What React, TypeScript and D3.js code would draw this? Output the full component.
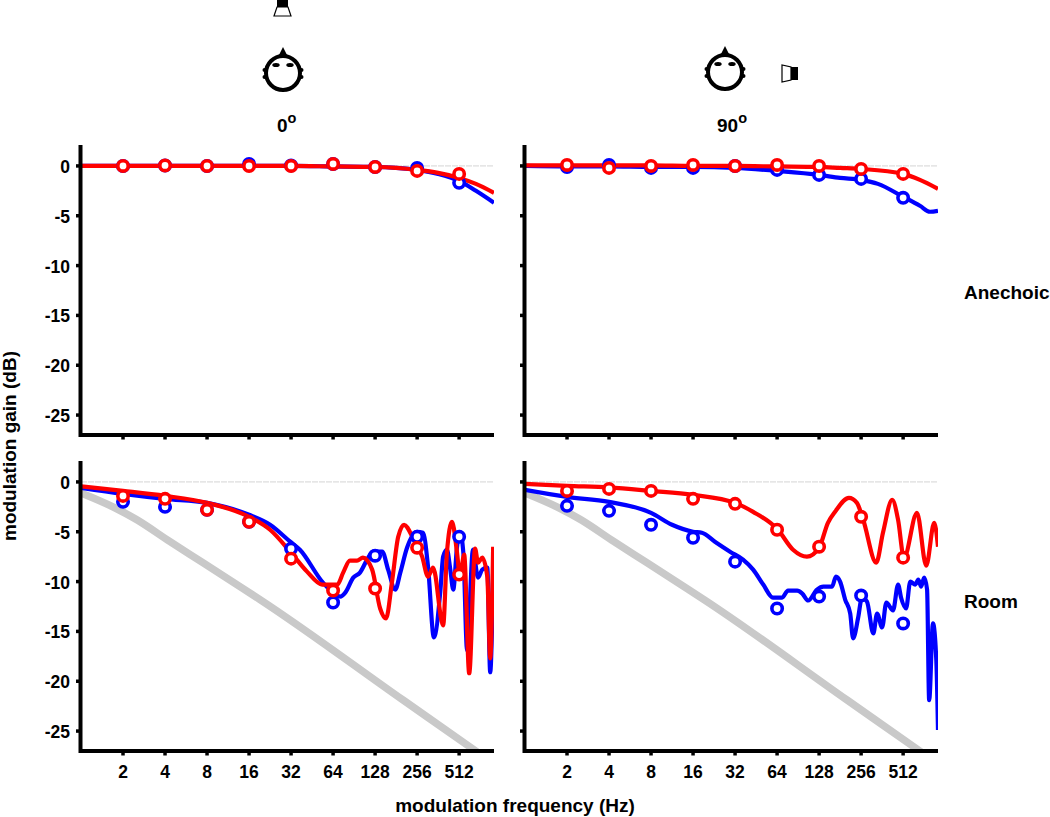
import { useRef, useEffect } from 'react';
import * as d3 from 'd3';

// frequencies are kept as log2(Hz), gains in dB
const markerOct = [1, 2, 3, 4, 5, 6, 7, 8, 9];
const tickLabels = ['2', '4', '8', '16', '32', '64', '128', '256', '512'];
const gainTicks = [0, -5, -10, -15, -20, -25];

const grayOct = [0, 0.76, 1.33, 2.12, 2.9, 3.71, 4.26, 7.67, 9.26, 9.83];
const grayDb = [-1.1, -2.5, -3.8, -6.0, -8.1, -10.3, -11.8, -21.9, -26.6, -28.3];

const anechoic0BlueOct = [0, 1, 2, 3, 4, 5, 6, 7, 7.5, 8, 8.5, 9, 9.4, 9.83];
const anechoic0BlueDb = [0, 0, 0, 0, 0, 0, -0.05, -0.1, -0.2, -0.4, -0.8, -1.5, -2.5, -3.7];
const anechoic0RedOct = [0, 1, 2, 3, 4, 5, 6, 7, 7.5, 8, 8.5, 9, 9.4, 9.83];
const anechoic0RedDb = [0, 0, 0, 0, 0, 0, -0.05, -0.1, -0.2, -0.4, -0.7, -1.2, -1.8, -2.7];
const anechoic0BlueMarks = [0, 0.05, 0, 0.2, 0.05, 0.2, -0.1, -0.2, -1.7];
const anechoic0RedMarks = [0, 0.05, 0, 0, 0, 0.2, -0.1, -0.5, -0.8];

const anechoic90BlueOct = [0, 1, 2, 3, 4, 5, 6, 7, 7.5, 8, 8.4, 9, 9.4, 9.64, 9.83];
const anechoic90BlueDb = [0, -0.05, -0.05, -0.1, -0.1, -0.2, -0.5, -0.9, -1.2, -1.4, -1.8, -3.1, -4.0, -4.6, -4.5];
const anechoic90RedOct = [0, 1, 2, 3, 4, 5, 6, 7, 7.5, 8, 9, 9.4, 9.83];
const anechoic90RedDb = [0.05, 0.05, 0.05, 0.05, 0, 0, -0.05, -0.1, -0.2, -0.3, -0.8, -1.4, -2.3];
const anechoic90BlueMarks = [-0.1, 0.1, -0.2, -0.2, 0, -0.4, -0.9, -1.3, -3.2];
const anechoic90RedMarks = [0.1, -0.2, 0, 0.1, 0, 0.1, 0, -0.3, -0.8];

const room0BlueOct = [0, 1, 2, 3, 4, 4.5, 4.98, 5.21, 5.76, 6.17, 6.29, 6.48, 6.64, 6.81, 6.95, 7.17, 7.31, 7.48, 7.6, 7.76, 8, 8.14, 8.26, 8.4, 8.55, 8.62, 8.71, 8.79, 8.86, 8.95, 9.02, 9.1, 9.19, 9.33, 9.45, 9.55, 9.67, 9.74, 9.81];
const room0BlueDb = [-0.6, -1.2, -1.7, -2.1, -3.3, -4.3, -6.0, -6.8, -10.1, -11.5, -11.1, -9.6, -9.1, -7.8, -7.0, -7.0, -8.8, -10.8, -9.1, -6.6, -5.0, -5.1, -8.5, -15.6, -11.1, -7.5, -6.8, -8.8, -10.8, -6.5, -5.0, -7.1, -16.9, -6.8, -9.6, -8.8, -8.6, -19.1, -8.8];
const room0RedOct = [0, 1, 2, 3, 4, 4.5, 4.98, 5.38, 5.74, 6.1, 6.24, 6.4, 6.57, 6.71, 6.93, 7.12, 7.26, 7.4, 7.55, 7.69, 7.9, 8.12, 8.26, 8.38, 8.62, 8.71, 8.83, 8.95, 9.02, 9.12, 9.24, 9.38, 9.45, 9.55, 9.67, 9.74, 9.81];
const room0RedDb = [-0.45, -0.9, -1.4, -2.1, -3.5, -4.8, -7.0, -9.0, -10.3, -10.3, -9.1, -7.9, -7.9, -7.6, -8.8, -12.7, -13.7, -10.1, -5.5, -4.3, -5.6, -7.5, -9.5, -8.6, -14.4, -7.1, -4.0, -7.1, -9.5, -7.3, -19.2, -6.7, -8.1, -7.6, -9.5, -17.7, -6.5];
const room0BlueMarks = [-2.0, -2.5, -2.8, -4.0, -6.7, -12.1, -7.4, -5.5, -5.5];
const room0RedMarks = [-1.4, -1.7, -2.8, -4.0, -7.7, -10.9, -10.7, -6.6, -9.3];

const room90BlueOct = [0, 1, 2, 3, 3.5, 4, 4.21, 4.52, 4.88, 5.19, 5.43, 5.67, 5.9, 6.12, 6.26, 6.48, 6.6, 6.74, 6.95, 7.1, 7.31, 7.4, 7.5, 7.62, 7.74, 7.81, 7.93, 8.02, 8.14, 8.29, 8.38, 8.5, 8.6, 8.76, 8.88, 8.95, 9.07, 9.17, 9.29, 9.36, 9.43, 9.5, 9.57, 9.62, 9.71, 9.79, 9.83];
const room90BlueDb = [-0.8, -1.5, -2.0, -3.1, -4.3, -5.0, -5.1, -6.0, -7.0, -7.8, -8.8, -10.3, -11.6, -11.6, -10.9, -10.9, -11.2, -11.9, -10.8, -10.5, -10.5, -9.5, -10.0, -11.8, -13.2, -15.7, -13.6, -11.6, -12.0, -15.2, -13.2, -14.6, -12.1, -12.9, -10.3, -11.6, -12.7, -10.0, -10.3, -9.8, -10.5, -9.6, -10.8, -21.9, -14.2, -17.9, -24.9];
const room90RedOct = [0, 1, 2, 3, 4, 5, 5.43, 6.02, 6.38, 6.71, 7, 7.21, 7.38, 7.71, 7.9, 8.05, 8.36, 8.52, 8.74, 8.88, 9.02, 9.33, 9.55, 9.74, 9.83];
const room90RedDb = [-0.2, -0.4, -0.55, -0.9, -1.3, -2.1, -3.0, -4.8, -6.8, -7.5, -6.6, -4.1, -3.0, -1.6, -2.1, -3.8, -8.1, -5.1, -1.8, -3.8, -7.6, -3.1, -8.4, -4.1, -6.5];
const room90BlueMarks = [-2.4, -2.9, -4.3, -5.6, -8.0, -12.7, -11.5, -11.4, -14.2];
const room90RedMarks = [-0.9, -0.7, -0.9, -1.7, -2.2, -4.8, -6.5, -3.5, -7.6];

const BLUE = '#0000ff';
const RED = '#ff0000';
const GRAY = '#c9c9c9';
const FONT = '"Liberation Sans", Arial, sans-serif';

const panels = [
  { id: 'a0', left: 81, top: 146, gray: false, yLabels: true, xLabels: false, blueOct: anechoic0BlueOct, blueDb: anechoic0BlueDb, redOct: anechoic0RedOct, redDb: anechoic0RedDb, blueMarks: anechoic0BlueMarks, redMarks: anechoic0RedMarks },
  { id: 'a90', left: 525, top: 146, gray: false, yLabels: false, xLabels: false, blueOct: anechoic90BlueOct, blueDb: anechoic90BlueDb, redOct: anechoic90RedOct, redDb: anechoic90RedDb, blueMarks: anechoic90BlueMarks, redMarks: anechoic90RedMarks },
  { id: 'r0', left: 81, top: 462, gray: true, yLabels: true, xLabels: true, blueOct: room0BlueOct, blueDb: room0BlueDb, redOct: room0RedOct, redDb: room0RedDb, blueMarks: room0BlueMarks, redMarks: room0RedMarks },
  { id: 'r90', left: 525, top: 462, gray: true, yLabels: false, xLabels: true, blueOct: room90BlueOct, blueDb: room90BlueDb, redOct: room90RedOct, redDb: room90RedDb, blueMarks: room90BlueMarks, redMarks: room90RedMarks },
];

const panelW = 414;
const panelH = 289;

function drawHead(g: any, cx: number, cy: number) {
  g.append('circle').attr('cx', cx).attr('cy', cy).attr('r', 17)
    .attr('fill', 'white').attr('stroke', 'black').attr('stroke-width', 4);
  g.append('path').attr('d', `M${cx - 4},${cy - 18} L${cx},${cy - 26} L${cx + 4},${cy - 18} Z`).attr('fill', 'black');
  [-7, 7].forEach(dx => {
    g.append('ellipse').attr('cx', cx + dx).attr('cy', cy - 8).attr('rx', 3.7).attr('ry', 2).attr('fill', 'black');
  });
  [-1, 1].forEach(side => {
    [-3, 4].forEach(dy => {
      g.append('circle').attr('cx', cx + side * 18.5).attr('cy', cy + dy).attr('r', 2).attr('fill', 'black');
    });
  });
}

const App = () => {
  const svgRef = useRef(null);

  useEffect(() => {
    const svg = d3.select(svgRef.current);
    svg.selectAll('*').remove();

    panels.forEach(p => {
      const x = d3.scaleLinear().domain([0, 9.83]).range([p.left, p.left + panelW - 1]);
      const y = d3.scaleLinear().domain([2, -27]).range([p.top, p.top + panelH]);
      const g = svg.append('g');

      g.append('clipPath').attr('id', `clip-${p.id}`)
        .append('rect').attr('x', p.left).attr('y', p.top).attr('width', panelW - 1).attr('height', panelH);

      // 0 dB reference line
      g.append('line')
        .attr('x1', p.left).attr('x2', p.left + panelW - 1)
        .attr('y1', y(0)).attr('y2', y(0))
        .attr('stroke', '#d4d4d4').attr('stroke-width', 1).attr('stroke-dasharray', '6,1');

      const line = (oct: number[], db: number[]) =>
        d3.line<number>()
          .x(d => x(d))
          .y((_, i) => y(db[i]))
          .curve(d3.curveMonotoneX)(oct);

      const plot = g.append('g').attr('clip-path', `url(#clip-${p.id})`);

      if (p.gray) {
        plot.append('path').attr('d', line(grayOct, grayDb))
          .attr('fill', 'none').attr('stroke', GRAY).attr('stroke-width', 7.5);
      }

      const series = [
        { color: BLUE, oct: p.blueOct, db: p.blueDb, marks: p.blueMarks },
        { color: RED, oct: p.redOct, db: p.redDb, marks: p.redMarks },
      ];
      series.forEach(s => {
        plot.append('path').attr('d', line(s.oct, s.db))
          .attr('fill', 'none').attr('stroke', s.color).attr('stroke-width', 4.2)
          .attr('stroke-linejoin', 'round');
      });
      series.forEach(s => {
        g.selectAll(null).data(s.marks).enter().append('circle')
          .attr('cx', (_, i) => x(markerOct[i]))
          .attr('cy', d => y(d))
          .attr('r', 5.2)
          .attr('fill', 'white')
          .attr('stroke', s.color)
          .attr('stroke-width', 3.6);
      });

      // axes
      g.append('path')
        .attr('d', `M${p.left - 0.5},${p.top - 1} V${p.top + panelH} H${p.left + panelW - 1}`)
        .attr('fill', 'none').attr('stroke', 'black').attr('stroke-width', 4);

      gainTicks.forEach(t => {
        g.append('line')
          .attr('x1', p.left - 5).attr('x2', p.left)
          .attr('y1', y(t)).attr('y2', y(t))
          .attr('stroke', 'black').attr('stroke-width', 3.5);
        if (p.yLabels) {
          g.append('text')
            .attr('x', p.left - 11).attr('y', y(t) + 7)
            .attr('text-anchor', 'end')
            .attr('font-family', FONT).attr('font-size', 17.5).attr('font-weight', 'bold')
            .text(t);
        }
      });

      markerOct.forEach((o, i) => {
        g.append('line')
          .attr('x1', x(o)).attr('x2', x(o))
          .attr('y1', p.top + panelH).attr('y2', p.top + panelH + 4.5)
          .attr('stroke', 'black').attr('stroke-width', 3.5);
        if (p.xLabels) {
          g.append('text')
            .attr('x', x(o)).attr('y', p.top + panelH + 27)
            .attr('text-anchor', 'middle')
            .attr('font-family', FONT).attr('font-size', 17.5).attr('font-weight', 'bold')
            .text(tickLabels[i]);
        }
      });
    });

    const label = (tx: number, ty: number, s: string, anchor = 'start') =>
      svg.append('text')
        .attr('x', tx).attr('y', ty)
        .attr('text-anchor', anchor)
        .attr('font-family', FONT).attr('font-size', 19).attr('font-weight', 'bold')
        .text(s);

    label(964, 299, 'Anechoic');
    label(964, 608, 'Room');
    label(515, 812, 'modulation frequency (Hz)', 'middle');
    label(0, 0, 'modulation gain (dB)', 'middle').attr('transform', 'translate(16,446) rotate(-90)');

    // angle titles
    [{ tx: 277, deg: '0' }, { tx: 717, deg: '90' }].forEach(t => {
      const el = label(t.tx, 132, t.deg);
      el.append('tspan').attr('dy', -9).attr('font-size', 14.5).text('o');
    });

    // head and loudspeaker icons
    const icons = svg.append('g');
    drawHead(icons, 283, 73);
    drawHead(icons, 725, 72);

    icons.append('rect').attr('x', 277).attr('y', 0).attr('width', 11).attr('height', 7).attr('fill', 'black');
    icons.append('path').attr('d', 'M277,7 L288,7 L291,16 L274,16 Z')
      .attr('fill', 'white').attr('stroke', 'black').attr('stroke-width', 1.2);

    icons.append('rect').attr('x', 791).attr('y', 67).attr('width', 7).attr('height', 13).attr('fill', 'black');
    icons.append('path').attr('d', 'M791,67 L791,80 L782,82 L782,65 Z')
      .attr('fill', 'white').attr('stroke', 'black').attr('stroke-width', 1.2);
  }, []);

  return <svg ref={svgRef} width={1050} height={817} style={{ position: 'absolute', left: 0, top: 0, background: 'white' }}></svg>;
};

export default App;
